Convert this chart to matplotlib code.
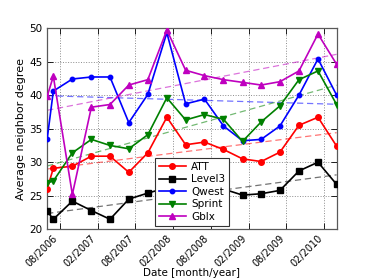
import matplotlib

matplotlib.use("Agg")
import matplotlib.dates as mdates
import matplotlib.pyplot as plt
import numpy as np
import pandas as pd

# olcum tarihleri (ayin ilk gunu)
dates = pd.to_datetime([
    "2006-06-01", "2006-07-01", "2006-10-01", "2007-01-01", "2007-04-01",
    "2007-07-01", "2007-10-01", "2008-01-01", "2008-04-01", "2008-07-01",
    "2008-10-01", "2009-01-01", "2009-04-01", "2009-07-01", "2009-10-01",
    "2010-01-01", "2010-04-01",
])

att = [26.0, 29.1, 29.4, 30.9, 30.9, 28.5, 31.4, 36.7, 32.6, 33.0, 31.9,
       30.5, 30.1, 31.5, 35.5, 36.7, 32.4]
level3 = [22.7, 21.5, 24.2, 22.8, 21.5, 24.5, 25.4, 26.2, 25.2, 25.6, 26.0,
          25.1, 25.3, 25.8, 28.7, 30.0, 26.7]
qwest = [33.4, 40.6, 42.4, 42.7, 42.7, 35.9, 40.1, 49.3, 38.7, 39.4, 35.4,
         33.2, 33.4, 35.4, 40.0, 45.4, 40.0]
sprint = [26.9, 27.2, 31.4, 33.4, 32.5, 32.0, 34.1, 39.6, 36.3, 37.1, 36.4,
          33.1, 36.0, 38.4, 42.3, 43.6, 38.6]
gblx = [39.8, 42.8, 25.2, 38.2, 38.6, 41.5, 42.3, 49.7, 43.7, 42.9, 42.3,
        41.9, 41.5, 42.0, 43.6, 49.1, 44.6]

names = ["ATT", "Level3", "Qwest", "Sprint", "Gblx"]
series = [att, level3, qwest, sprint, gblx]
colors = ["#ff0000", "#000000", "#0000ff", "#008000", "#bf00bf"]
markers = ["o", "s", "o", "v", "^"]
msizes = [4.0, 4.0, 3.2, 4.0, 4.0]

plt.rcParams["font.family"] = "DejaVu Sans"

fig = plt.figure(figsize=(3.74, 2.8), dpi=100)
ax = fig.add_axes([0.126, 0.181, 0.774, 0.719])

xnum = mdates.date2num(dates)
for name, vals, c, m, ms in zip(names, series, colors, markers, msizes):
    ax.plot(dates, vals, color=c, marker=m, markersize=ms, lw=1.2,
            markeredgecolor=c, label=name, zorder=3)
    # lineer trend (en kucuk kareler)
    k, b = np.polyfit(xnum, vals, 1)
    ax.plot(dates, k * xnum + b, color=c, ls="--", lw=0.9, alpha=0.55,
            dashes=(5, 3), zorder=2)

ax.set_xlim(dates[0], dates[-1])
ax.set_ylim(20, 50)
ax.set_yticks([20, 25, 30, 35, 40, 45, 50])
ax.xaxis.set_major_locator(mdates.MonthLocator(bymonth=[2, 8]))
ax.xaxis.set_major_formatter(mdates.DateFormatter("%m/%Y"))
for lbl in ax.get_xticklabels():
    lbl.set_rotation(45)
    lbl.set_ha("right")

ax.tick_params(axis="y", labelsize=7.5)
ax.tick_params(axis="x", labelsize=7, pad=2.5)
ax.tick_params(direction="in", length=4, width=0.6, top=True, right=True)
ax.grid(True, color="0.55", ls=":", lw=0.7)
for sp in ax.spines.values():
    sp.set_color("0.35")
    sp.set_linewidth(0.9)

ax.set_xlabel("Date [month/year]", fontsize=7.5, labelpad=0)
ax.set_ylabel("Average neighbor degree", fontsize=8, labelpad=2)

leg = ax.legend(loc="lower center", fontsize=7.5, numpoints=1,
                handlelength=2.6, borderpad=0.35, labelspacing=0.25,
                handletextpad=0.5, fancybox=False, framealpha=1,
                borderaxespad=0.35)
leg.get_frame().set_edgecolor("0.2")
leg.get_frame().set_linewidth(0.8)

fig.savefig("out.png", dpi=100)
